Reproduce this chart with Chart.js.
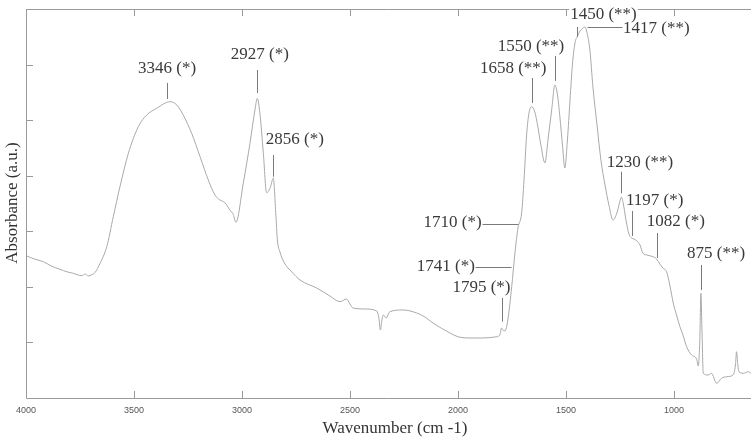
<!DOCTYPE html>
<html><head><meta charset="utf-8">
<script src="https://cdn.jsdelivr.net/npm/chart.js@4.4.0/dist/chart.umd.min.js"></script>
<style>html,body{margin:0;padding:0;background:#fff;overflow:hidden}#wrap{width:751px;height:439px;position:relative}</style>
</head><body><div id="wrap"><canvas id="c" width="751" height="439"></canvas></div>
<script>
// FTIR spectrum values
const wavenumbers = [4000,3960,3920,3880,3843,3810,3781,3760,3742,3725,3712,3695,3681,3657,3626,3596,3565,3526,3480,3441,3395,3333,3302,3272,3233,3194,3156,3125,3102,3079,3056,3040,3028,2994,2963,2940,2929,2917,2901,2886,2870,2855,2843,2836,2824,2806,2769,2731,2654,2593,2546,2515,2500,2486,2431,2376,2366,2359,2352,2345,2333,2315,2255,2191,2153,2116,2037,2000,1944,1884,1829,1806,1798,1792,1782,1769,1751,1736,1722,1705,1694,1682,1671,1659,1644,1630,1616,1597,1583,1566,1551,1539,1528,1516,1505,1493,1481,1470,1458,1446,1435,1426,1412,1403,1389,1375,1356,1338,1319,1301,1282,1264,1252,1243,1234,1222,1208,1196,1185,1171,1157,1144,1125,1097,1080,1065,1051,1034,1019,1003,988,972,958,941,918,895,887,880,875,870,864,841,826,802,779,756,726,715,710,704,699,679,656,643];
const absorbance = [2.561,2.50,2.453,2.37,2.316,2.27,2.244,2.215,2.201,2.23,2.195,2.22,2.255,2.424,2.723,3.26,3.802,4.403,4.882,5.093,5.213,5.332,5.273,5.093,4.763,4.342,3.923,3.653,3.563,3.514,3.383,3.30,3.16,3.864,4.583,5.183,5.393,5.123,4.403,3.694,3.774,3.954,3.293,2.843,2.627,2.447,2.267,2.123,1.979,1.836,1.733,1.782,1.692,1.620,1.602,1.566,1.440,1.224,1.404,1.494,1.440,1.553,1.584,1.530,1.458,1.350,1.170,1.103,1.080,1.080,1.098,1.134,1.260,1.224,1.206,1.404,2.003,2.609,3.059,3.329,3.923,4.733,5.129,5.242,5.147,4.882,4.553,4.229,4.643,5.183,5.633,5.453,5.062,4.553,4.139,4.643,5.363,5.993,6.388,6.514,6.604,6.640,6.676,6.586,6.262,5.602,4.913,4.283,3.833,3.473,3.203,3.329,3.509,3.617,3.491,3.203,2.951,2.879,2.861,2.825,2.753,2.609,2.573,2.543,2.501,2.411,2.339,2.273,2.033,1.710,1.494,1.283,1.134,0.923,0.774,0.702,0.576,1.044,1.884,1.224,0.444,0.414,0.444,0.265,0.355,0.383,0.414,0.594,0.833,0.594,0.473,0.444,0.473,0.444];

const xTickValues = [4000,3500,3000,2500,2000,1500,1000];
const yTickValues = [1,2,3,4,5,6];

// peak annotations: text, text centre (wavenumber, absorbance), leader line end points
const peakLabels = ["3346 (*)","2927 (*)","2856 (*)","1658 (**)","1550 (**)","1450 (**)","1417 (**)","1230 (**)","1197 (*)","1082 (*)","875 (**)","1710 (*)","1741 (*)","1795 (*)"];
const labelWn   = [3347,2917,2755,1744,1662,1326,1081,1157,1089,991,805,2025,2056,1891];
const labelAbs  = [5.92,6.172,4.643,5.92,6.322,6.892,6.653,4.229,3.545,3.173,2.591,3.162,2.363,1.979];
const leadWn1   = [3347,2929,2855,1659,1551,1449,1404,1245,1196,1080,875,1889,1921,1798];
const leadAbs1  = [5.669,5.902,4.373,5.758,6.154,6.676,6.676,4.072,3.365,2.969,2.393,3.126,2.363,1.800];
const leadWn2   = [3347,2929,2855,1659,1551,1449,1242,1245,1196,1080,875,1722,1755,1798];
const leadAbs2  = [5.381,5.488,3.982,5.309,5.706,6.496,6.676,3.684,2.915,2.519,1.943,3.126,2.363,1.373];
const labelMasked = [false,false,false,false,false,true,false,false,false,false,false,false,false,false];

const points = wavenumbers.map((w,i)=>({x:w,y:absorbance[i]}));

const framePlugin = {
  id:'frame',
  afterDatasetsDraw(chart){
    const {ctx, chartArea:a, scales:{x,y}} = chart;
    ctx.save();
    ctx.strokeStyle='#9a9a9a'; ctx.lineWidth=1;
    ctx.beginPath();
    ctx.moveTo(a.right, a.top+0.5); ctx.lineTo(a.left+0.5, a.top+0.5);
    ctx.lineTo(a.left+0.5, a.bottom+0.5); ctx.lineTo(a.right, a.bottom+0.5);
    ctx.stroke();
    ctx.beginPath();
    xTickValues.forEach(v=>{
      const px=Math.round(x.getPixelForValue(v))+0.5;
      ctx.moveTo(px,a.bottom); ctx.lineTo(px,a.bottom-7);
      ctx.moveTo(px,a.top); ctx.lineTo(px,a.top+7);
    });
    yTickValues.forEach(v=>{
      const py=Math.round(y.getPixelForValue(v))+0.5;
      ctx.moveTo(a.left,py); ctx.lineTo(a.left+7,py);
    });
    ctx.stroke();
    // annotations
    ctx.font='17px "Liberation Serif", "Times New Roman", serif';
    ctx.textAlign='center'; ctx.textBaseline='middle';
    peakLabels.forEach((t,i)=>{
      const tx=x.getPixelForValue(labelWn[i]), ty=y.getPixelForValue(labelAbs[i]);
      if(labelMasked[i]){
        const w=ctx.measureText(t).width;
        ctx.fillStyle='#fff';
        ctx.fillRect(tx-w/2-1, ty-10, w+2, 14);
      }
      ctx.strokeStyle='#7a7a7a';
      ctx.beginPath();
      const x1=Math.round(x.getPixelForValue(leadWn1[i]))+0.5, y1=y.getPixelForValue(leadAbs1[i]);
      const x2=Math.round(x.getPixelForValue(leadWn2[i]))+0.5, y2=y.getPixelForValue(leadAbs2[i]);
      if (Math.abs(y1-y2)<0.5){ const yy=Math.round(y1)+0.5; ctx.moveTo(x1,yy); ctx.lineTo(x2,yy);} else {ctx.moveTo(x1,y1); ctx.lineTo(x2,y2);}
      ctx.stroke();
      ctx.fillStyle='#3a3a3a';
      ctx.fillText(t,tx,ty);
    });
    // axis titles
    ctx.fillStyle='#333';
    ctx.font='17px "Liberation Serif", "Times New Roman", serif';
    ctx.fillText('Wavenumber (cm -1)', 395, 429);
    ctx.translate(13, 203); ctx.rotate(-Math.PI/2);
    ctx.fillText('Absorbance (a.u.)', 0, 0);
    ctx.restore();
  }
};

new Chart(document.getElementById('c'), {
  type:'line',
  data:{datasets:[{data:points, borderColor:'#a9a9a9', borderWidth:1, pointRadius:0, cubicInterpolationMode:'monotone', fill:false}]},
  options:{
    responsive:false, animation:false, devicePixelRatio:1,
    layout:{padding:{left:26, top:9, right:0, bottom:0}},
    plugins:{legend:{display:false}, tooltip:{enabled:false}},
    scales:{
      x:{type:'linear', reverse:true, min:643, max:4000,
        afterBuildTicks(s){ s.ticks = xTickValues.map(v=>({value:v})); },
        afterFit(s){ s.height = 41; },
        grid:{display:false}, border:{display:false},
        ticks:{color:'#555', font:{family:'"Liberation Sans", Arial, sans-serif', size:9}, padding:-1, maxRotation:0, autoSkip:false,
          callback:(v)=>String(v)}
      },
      y:{display:false, min:0, max:7}
    }
  },
  plugins:[framePlugin]
});
</script>
</body></html>
